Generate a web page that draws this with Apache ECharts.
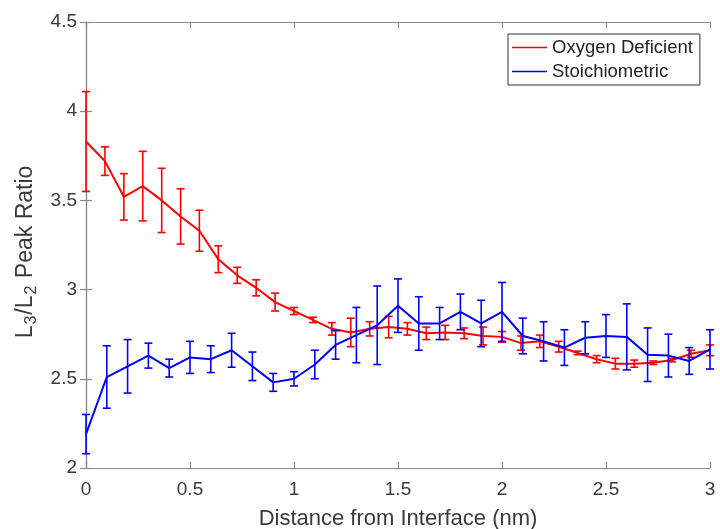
<!DOCTYPE html>
<html>
<head>
<meta charset="utf-8">
<script src="https://cdn.jsdelivr.net/npm/echarts@6/dist/echarts.min.js"></script>
<style>
  html, body { margin: 0; padding: 0; background: #fff; }
  #chart { width: 720px; height: 529px; }
</style>
</head>
<body>
<div id="chart"></div>
<script>
// ---- Data ----
const redX = [0, 0.091, 0.182, 0.273, 0.364, 0.455, 0.545, 0.636, 0.727, 0.818, 0.909,
  1.0, 1.091, 1.182, 1.273, 1.364, 1.455, 1.545, 1.636, 1.727, 1.818, 1.909,
  2.0, 2.091, 2.182, 2.273, 2.364, 2.455, 2.545, 2.636, 2.727, 2.818, 2.909, 3.0];
const redY = [3.83, 3.72, 3.52, 3.58, 3.50, 3.41, 3.33, 3.17, 3.08, 3.01, 2.93,
  2.88, 2.83, 2.78, 2.76, 2.78, 2.79, 2.78, 2.755, 2.76, 2.755, 2.74,
  2.735, 2.70, 2.71, 2.68, 2.645, 2.61, 2.585, 2.585, 2.59, 2.605, 2.64, 2.66];
const redErr = [0.28, 0.08, 0.13, 0.195, 0.18, 0.155, 0.115, 0.075, 0.045, 0.045, 0.05,
  0.02, 0.015, 0.035, 0.08, 0.04, 0.06, 0.035, 0.035, 0.04, 0.03, 0.05,
  0.03, 0.04, 0.035, 0.03, 0.01, 0.02, 0.03, 0.02, 0.01, 0.01, 0.02, 0.03];

const blueX = [0, 0.1, 0.2, 0.3, 0.4, 0.5, 0.6, 0.7, 0.8, 0.9, 1.0,
  1.1, 1.2, 1.3, 1.4, 1.5, 1.6, 1.7, 1.8, 1.9, 2.0,
  2.1, 2.2, 2.3, 2.4, 2.5, 2.6, 2.7, 2.8, 2.9, 3.0];
const blueY = [2.19, 2.51, 2.57, 2.63, 2.56, 2.62, 2.61, 2.66, 2.57, 2.48, 2.50,
  2.58, 2.69, 2.745, 2.80, 2.91, 2.81, 2.81, 2.875, 2.81, 2.875,
  2.74, 2.71, 2.675, 2.73, 2.74, 2.735, 2.635, 2.63, 2.60, 2.665];
const blueErr = [0.11, 0.175, 0.15, 0.07, 0.05, 0.09, 0.075, 0.095, 0.08, 0.05, 0.04,
  0.08, 0.08, 0.155, 0.22, 0.15, 0.15, 0.09, 0.1, 0.13, 0.165,
  0.1, 0.11, 0.1, 0.09, 0.12, 0.185, 0.15, 0.12, 0.075, 0.11];

const seriesNames = ['Oxygen Deficient', 'Stoichiometric'];
const seriesColors = ['#ff0000', '#0000ff'];
const xTicks = { min: 0, max: 3, interval: 0.5 };
const yTicks = { min: 2, max: 4.5, interval: 0.5 };

// ---- Chart ----
const FONT = "'Liberation Sans', Arial, Helvetica, sans-serif";
const AXIS_COLOR = '#8a8a8a';
const TEXT_COLOR = '#3a3a3a';

function zip(xs, ys) { return xs.map((x, i) => [x, ys[i]]); }
function zip3(xs, ys, es) { return xs.map((x, i) => [x, ys[i], es[i]]); }

function errorRender(color) {
  return function (params, api) {
    const x = api.value(0), y = api.value(1), e = api.value(2);
    const top = api.coord([x, y + e]);
    const bot = api.coord([x, y - e]);
    const hw = 4;
    const style = { stroke: color, lineWidth: 1.6 };
    return {
      type: 'group',
      children: [
        { type: 'line', shape: { x1: top[0], y1: top[1], x2: bot[0], y2: bot[1] }, style: style },
        { type: 'line', shape: { x1: top[0] - hw, y1: top[1], x2: top[0] + hw, y2: top[1] }, style: style },
        { type: 'line', shape: { x1: bot[0] - hw, y1: bot[1], x2: bot[0] + hw, y2: bot[1] }, style: style }
      ]
    };
  };
}

const baseAxis = {
  axisLine: { show: true, lineStyle: { color: AXIS_COLOR, width: 1.2 } },
  axisTick: { show: true, inside: true, length: 6, lineStyle: { color: AXIS_COLOR, width: 1.2 } },
  splitLine: { show: false }
};

const chart = echarts.init(document.getElementById('chart'), null, { renderer: 'canvas' });
chart.setOption({
  animation: false,
  backgroundColor: '#ffffff',
  color: seriesColors,
  grid: { left: 86, right: 10, top: 22, bottom: 61, containLabel: false, outerBoundsMode: 'none' },
  legend: {
    data: seriesNames.map((n, i) => ({ name: n, itemStyle: { color: seriesColors[i] } })),
    orient: 'vertical',
    left: 508, top: 34,
    icon: 'rect',
    itemWidth: 35, itemHeight: 1.5,
    itemGap: 5,
    itemTextGap: 3,
    padding: [4, 7, 4, 4],
    borderColor: '#333333', borderWidth: 1,
    backgroundColor: '#ffffff',
    textStyle: { fontFamily: FONT, fontSize: 18.5, color: '#222222' }
  },
  xAxis: [
    Object.assign({}, baseAxis, {
      type: 'value', position: 'bottom',
      min: xTicks.min, max: xTicks.max, interval: xTicks.interval,
      name: 'Distance from Interface (nm)',
      nameLocation: 'middle', nameGap: 40,
      nameTextStyle: { fontFamily: FONT, fontSize: 22, color: TEXT_COLOR },
      axisLabel: { fontFamily: FONT, fontSize: 19, color: TEXT_COLOR, margin: 12 }
    }),
    Object.assign({}, baseAxis, {
      type: 'value', position: 'top',
      min: xTicks.min, max: xTicks.max, interval: xTicks.interval,
      axisLabel: { show: false }
    })
  ],
  yAxis: [
    Object.assign({}, baseAxis, {
      type: 'value', position: 'left',
      min: yTicks.min, max: yTicks.max, interval: yTicks.interval,
      name: 'L{sub|3}/L{sub|2} Peak Ratio',
      nameLocation: 'middle', nameGap: 48, nameRotate: 90,
      nameTextStyle: {
        fontFamily: FONT, fontSize: 23, color: TEXT_COLOR,
        lineHeight: 28, verticalAlign: 'middle',
        padding: [0, 14, 0, 0],
        rich: {
          sub: { fontFamily: FONT, fontSize: 16, color: TEXT_COLOR, lineHeight: 16, verticalAlign: 'bottom', padding: [0, 1, 0, 1] }
        }
      },
      axisLabel: { fontFamily: FONT, fontSize: 19, color: TEXT_COLOR, margin: 9 }
    }),
    Object.assign({}, baseAxis, {
      type: 'value', position: 'right',
      min: yTicks.min, max: yTicks.max, interval: yTicks.interval,
      axisLabel: { show: false }
    })
  ],
  series: [
    {
      name: seriesNames[0], type: 'custom', xAxisIndex: 0, yAxisIndex: 0,
      renderItem: errorRender(seriesColors[0]),
      itemStyle: { color: seriesColors[0] },
      data: zip3(redX, redY, redErr), z: 2, silent: true
    },
    {
      name: seriesNames[0], type: 'line', xAxisIndex: 0, yAxisIndex: 0,
      data: zip(redX, redY), symbol: 'none', showSymbol: false,
      lineStyle: { color: seriesColors[0], width: 2 },
      itemStyle: { color: seriesColors[0] }, z: 3
    },
    {
      name: seriesNames[1], type: 'custom', xAxisIndex: 0, yAxisIndex: 0,
      renderItem: errorRender(seriesColors[1]),
      itemStyle: { color: seriesColors[1] },
      data: zip3(blueX, blueY, blueErr), z: 4, silent: true
    },
    {
      name: seriesNames[1], type: 'line', xAxisIndex: 0, yAxisIndex: 0,
      data: zip(blueX, blueY), symbol: 'none', showSymbol: false,
      lineStyle: { color: seriesColors[1], width: 2 },
      itemStyle: { color: seriesColors[1] }, z: 5
    }
  ]
});
</script>
</body>
</html>
